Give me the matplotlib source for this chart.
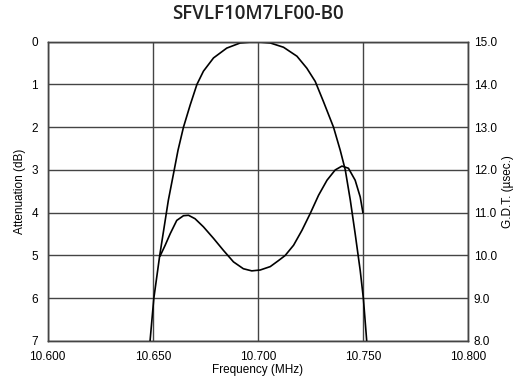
import matplotlib
matplotlib.use('Agg')
import matplotlib.pyplot as plt

# Attenuation curve (frequency in MHz, attenuation in dB)
att_freq = [10.6487, 10.6505, 10.6533, 10.6574, 10.6602, 10.6620, 10.6646, 10.6678,
            10.6710, 10.6741, 10.6789, 10.6852, 10.6916, 10.6987, 10.7059, 10.7122,
            10.7186, 10.7233, 10.7273, 10.7312, 10.7360, 10.7392, 10.7416, 10.7440,
            10.7463, 10.7487, 10.7502, 10.7518]
att_db = [7.0, 6.0, 5.0, 3.71, 3.0, 2.54, 2.0, 1.48,
          1.0, 0.69, 0.38, 0.15, 0.03, 0.0, 0.03, 0.13,
          0.34, 0.62, 0.93, 1.40, 2.0, 2.54, 3.0, 3.71,
          4.49, 5.35, 6.0, 7.0]

# Group delay time curve (frequency in MHz, GDT in usec)
gdt_freq = [10.6535, 10.6559, 10.6583, 10.6614, 10.6646, 10.6670, 10.6701, 10.6741,
            10.6789, 10.6836, 10.6884, 10.6931, 10.6971, 10.7011, 10.7059, 10.7098,
            10.7130, 10.7170, 10.7210, 10.7249, 10.7289, 10.7329, 10.7368, 10.7400,
            10.7431, 10.7463, 10.7487, 10.7500]
gdt_us = [9.99, 10.24, 10.51, 10.82, 10.93, 10.94, 10.86, 10.67,
          10.40, 10.12, 9.85, 9.69, 9.64, 9.66, 9.74, 9.88,
          10.0, 10.24, 10.59, 10.98, 11.41, 11.76, 12.0, 12.09,
          12.04, 11.76, 11.37, 11.0]

x_ticks = [10.600, 10.650, 10.700, 10.750, 10.800]
att_ticks = [0, 1, 2, 3, 4, 5, 6, 7]
gdt_ticks = [8.0, 9.0, 10.0, 11.0, 12.0, 13.0, 14.0, 15.0]

plt.rcParams['font.family'] = ['Liberation Sans', 'DejaVu Sans']

fig = plt.figure(figsize=(5.18, 3.81), dpi=100)
ax = fig.add_axes([0.0921, 0.105, 0.8114, 0.7856])
ax2 = ax.twinx()

grid_col = '#444444'
ax.plot(att_freq, att_db, color='black', lw=1.2, zorder=3)
ax2.plot(gdt_freq, gdt_us, color='black', lw=1.2, zorder=3)

ax.set_xlim(10.600, 10.800)
ax.set_ylim(7, 0)
ax2.set_ylim(8.0, 15.0)

ax.set_xticks(x_ticks)
ax.set_xticklabels(['%.3f' % v for v in x_ticks])
ax.set_yticks(att_ticks)
ax.set_yticklabels([str(v) for v in att_ticks])
ax2.set_yticks(gdt_ticks)
ax2.set_yticklabels(['%.1f' % v for v in gdt_ticks])

for a in (ax, ax2):
    a.tick_params(length=0, labelsize=8.5, colors='black')
    for s in a.spines.values():
        s.set_color(grid_col)
        s.set_linewidth(1.0)
ax.tick_params(axis='y', pad=7)
ax.tick_params(axis='x', pad=7)
ax2.tick_params(axis='y', pad=4)

ax.grid(True, color=grid_col, lw=1.0)

ax.set_xlabel('Frequency (MHz)', fontsize=8.5, labelpad=1)
ax.set_ylabel('Attenuation (dB)', fontsize=8.5, labelpad=4)
ax2.set_ylabel('G.D.T. (\u00b5sec.)', fontsize=8.5, labelpad=4)

fig.suptitle('SFVLF10M7LF00-B0', x=0.498, y=0.99, fontsize=13.5, fontweight='semibold',
             family='Open Sans', color='#222222')

fig.savefig('out.png', dpi=100)
